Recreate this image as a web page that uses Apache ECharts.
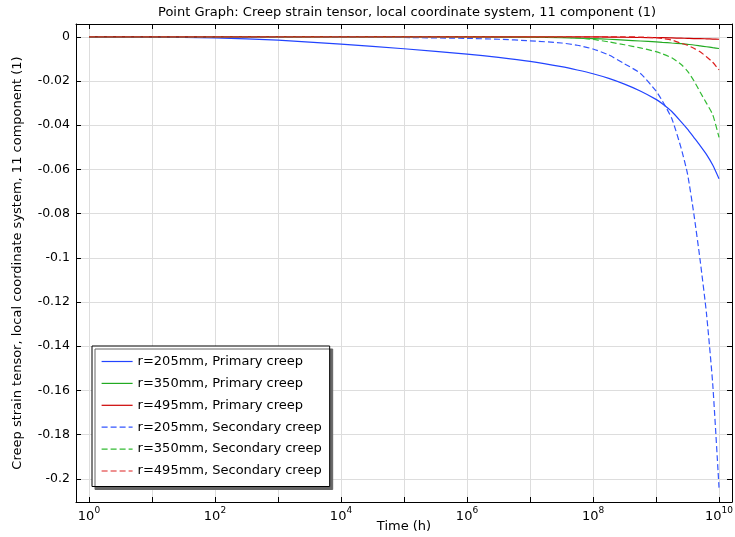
<!DOCTYPE html>
<html>
<head>
<meta charset="utf-8">
<script src="https://cdn.jsdelivr.net/npm/echarts@6/dist/echarts.min.js"></script>
<style>
  html, body { margin: 0; padding: 0; background: #fff; }
  #main { width: 735px; height: 537px; }
</style>
</head>
<body>
<div id="main"></div>
<script>
// time in hours (log axis drawn as exponent of 10)
var timeH = [1, 10, 100, 1e3, 1e4, 1e5, 1e6, 3.16e6, 1e7, 3.16e7, 5.62e7, 1e8, 1.78e8, 3.16e8, 5.62e8,
  1e9, 1.26e9, 1.78e9, 2.51e9, 3.16e9, 3.98e9, 5.01e9, 6.31e9, 7.94e9, 1e10]

var primary205 = [0, -0.0001, -0.0005, -0.0015, -0.0033, -0.0054, -0.0078, -0.0093, -0.0111, -0.0135, -0.015, -0.0167, -0.0188, -0.0214, -0.0245,
  -0.0283, -0.0303, -0.0338, -0.0385, -0.0418, -0.0455, -0.0492, -0.0532, -0.058, -0.0642]
var primary350 = [0, 0, 0, 0, 0, 0, 0, -0.0001, -0.0002, -0.0004, -0.0006, -0.0008, -0.0011, -0.0015, -0.0019,
  -0.0023, -0.0025, -0.0028, -0.0031, -0.0034, -0.0037, -0.0041, -0.0045, -0.0049, -0.0053]
var primary495 = [0, 0, 0, 0, 0, 0, 0, 0, 0, 0, 0, 0, -0.0001, -0.0002, -0.0003,
  -0.0004, -0.0004, -0.0005, -0.0006, -0.0007, -0.0008, -0.0008, -0.0009, -0.001, -0.0011]
var secondary205 = [0, 0, 0, 0, 0, -0.0003, -0.0007, -0.0011, -0.0018, -0.0028, -0.0038, -0.0055, -0.0082, -0.0122, -0.0165,
  -0.0245, -0.029, -0.037, -0.0505, -0.062, -0.08, -0.101, -0.125, -0.157, -0.204]
var secondary350 = [0, 0, 0, 0, 0, 0, 0, 0, 0, -0.0001, -0.0005, -0.0012, -0.0023, -0.0036, -0.005,
  -0.0067, -0.0077, -0.0095, -0.0125, -0.0155, -0.0198, -0.025, -0.03, -0.0352, -0.0455]
var secondary495 = [0, 0, 0, 0, 0, 0, 0, 0, 0, 0, 0, 0, 0, 0, -0.0001,
  -0.0004, -0.0008, -0.0015, -0.0029, -0.0038, -0.0052, -0.0068, -0.009, -0.0115, -0.015]

var xTicks = [0, 1, 2, 3, 4, 5, 6, 7, 8, 9, 10]
var xLabels = [0, 2, 4, 6, 8, 10]
var yTicks = [0, -0.02, -0.04, -0.06, -0.08, -0.1, -0.12, -0.14, -0.16, -0.18, -0.2]

var font = 'DejaVu Sans'

function pts (vals) {
  return timeH.map(function (t, i) { return [Math.log10(t), vals[i]] })
}

function makeSeries (name, vals, color, dashed) {
  return {
    name: name,
    type: 'line',
    data: pts(vals),
    symbol: 'none',
    smooth: 0.2,
    lineStyle: { color: color, width: 1.2, type: dashed ? [6, 3] : 'solid' },
    itemStyle: { color: color }
  }
}

var chart = echarts.init(document.getElementById('main'))
chart.setOption({
  animation: false,
  title: {
    text: 'Point Graph: Creep strain tensor, local coordinate system, 11 component (1)',
    left: 158,
    top: 6,
    padding: 0,
    textStyle: { fontFamily: font, fontSize: 13, fontWeight: 'normal', color: '#000' }
  },
  legend: {
    orient: 'vertical',
    left: 92,
    top: 346,
    padding: [9, 8, 9, 9],
    itemWidth: 31,
    itemHeight: 14,
    itemGap: 8.9,
    itemStyle: { opacity: 0 },
    lineStyle: { width: 1.2 },
    backgroundColor: '#fff',
    borderColor: '#000',
    borderWidth: 1,
    borderRadius: 0,
    shadowColor: '#666',
    shadowBlur: 0,
    shadowOffsetX: 3,
    shadowOffsetY: 3,
    textStyle: { fontFamily: font, fontSize: 13, color: '#000' }
  },
  grid: { left: 76, right: 3, top: 24, bottom: 35, outerBoundsMode: 'none' },
  xAxis: [
    {
      type: 'value',
      min: -0.206,
      max: 10.206,
      name: 'Time (h)',
      nameLocation: 'middle',
      nameGap: 18,
      nameMoveOverlap: false,
      nameTextStyle: { fontFamily: font, fontSize: 13, color: '#000' },
      axisLine: { onZero: false, lineStyle: { color: '#000', width: 1 } },
      axisTick: { inside: true, length: 5, customValues: xTicks, lineStyle: { color: '#000' } },
      axisLabel: {
        customValues: xLabels,
        margin: 4,
        formatter: function (v) { return '{b|10}{s|' + Math.round(v) + '}' },
        rich: {
          b: { fontFamily: font, fontSize: 13, color: '#000', lineHeight: 17, verticalAlign: 'bottom' },
          s: { fontFamily: font, fontSize: 9, color: '#000', lineHeight: 17, verticalAlign: 'top' }
        }
      },
      splitLine: { show: true, lineStyle: { color: '#dddddd', width: 1 } }
    },
    {
      type: 'value',
      position: 'top',
      min: -0.206,
      max: 10.206,
      axisLine: { onZero: false, lineStyle: { color: '#000', width: 1 } },
      axisTick: { inside: true, length: 5, customValues: xTicks, lineStyle: { color: '#000' } },
      axisLabel: { show: false },
      splitLine: { show: false }
    }
  ],
  yAxis: [
    {
      type: 'value',
      min: -0.2105,
      max: 0.0058,
      name: 'Creep strain tensor, local coordinate system, 11 component (1)',
      nameLocation: 'middle',
      nameGap: 52,
      nameTextStyle: { fontFamily: font, fontSize: 13, color: '#000' },
      axisLine: { show: true, onZero: false, lineStyle: { color: '#000', width: 1 } },
      axisTick: { show: true, inside: true, length: 5, customValues: yTicks, lineStyle: { color: '#000' } },
      axisLabel: {
        customValues: yTicks,
        margin: 6,
        fontFamily: font,
        fontSize: 12.5,
        color: '#000',
        formatter: function (v) { return Math.abs(v) < 1e-9 ? '0' : String(+v.toFixed(2)) }
      },
      splitLine: { show: true, lineStyle: { color: '#dddddd', width: 1 } }
    },
    {
      type: 'value',
      position: 'right',
      min: -0.2105,
      max: 0.0058,
      axisLine: { show: true, onZero: false, lineStyle: { color: '#000', width: 1 } },
      axisTick: { show: true, inside: true, length: 5, customValues: yTicks, lineStyle: { color: '#000' } },
      axisLabel: { show: false },
      splitLine: { show: false }
    }
  ],
  series: [
    makeSeries('r=205mm, Primary creep', primary205, '#2244ff', false),
    makeSeries('r=350mm, Primary creep', primary350, '#22aa22', false),
    makeSeries('r=495mm, Primary creep', primary495, '#cc0000', false),
    makeSeries('r=205mm, Secondary creep', secondary205, '#3355ff', true),
    makeSeries('r=350mm, Secondary creep', secondary350, '#33bb33', true),
    makeSeries('r=495mm, Secondary creep', secondary495, '#dd2222', true)
  ]
})
</script>
</body>
</html>
